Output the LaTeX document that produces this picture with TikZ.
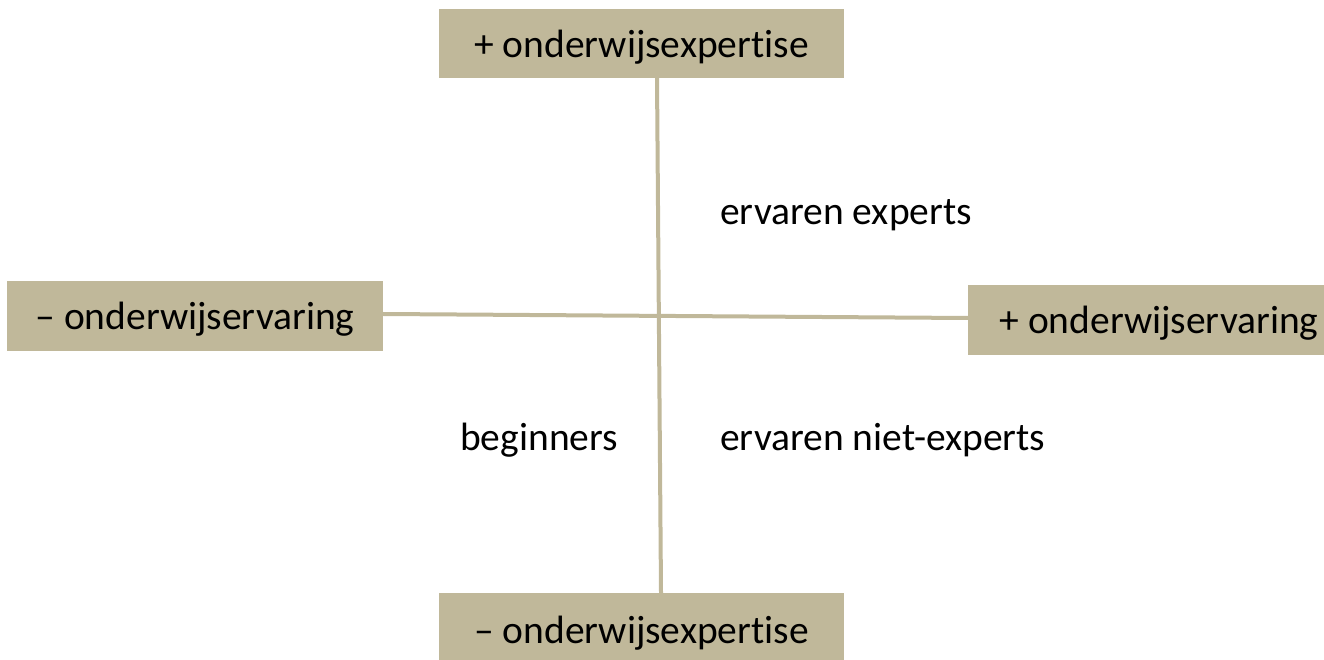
\documentclass[tikz,border=0pt]{standalone}
\usepackage{fontspec}
\setmainfont{Carlito}[Ligatures=CommonOff]
\definecolor{tan}{HTML}{C0B89A}
\begin{document}
\begin{tikzpicture}[x=1pt,y=1pt,
  box/.style={fill=tan, draw=none, inner sep=0pt, font=\fontsize{39.5}{42}\selectfont, text height=34pt, text depth=6pt},
  lbl/.style={inner sep=0pt, anchor=west, font=\fontsize{39.5}{42}\selectfont},
  axis/.style={draw=tan, line width=4pt}]
\useasboundingbox (0,0) rectangle (1324,659);
\node[box, minimum width=405, minimum height=69] (top) at (641.5,615.5) {+ onderwijsexpertise};
\node[box, minimum width=376, minimum height=70] (left) at (195,343) {– onderwijservaring};
\node[box, minimum width=382, minimum height=70] (right) at (1159,339) {+ onderwijservaring};
\node[box, minimum width=405, minimum height=73] (bottom) at (641.5,29.5) {– onderwijsexpertise};
\draw[axis] ([xshift=15.5]top.south) -- ([xshift=19.5]bottom.north);
\draw[axis] ([yshift=2]left.east) -- ([yshift=2]right.west);
\node[lbl] (exp) at (720,444) {ervaren experts};
\node[lbl] (beg) at (460,219) {beginners};
\node[lbl] (niet) at (720,219) {ervaren niet-experts};
\end{tikzpicture}
\end{document}
